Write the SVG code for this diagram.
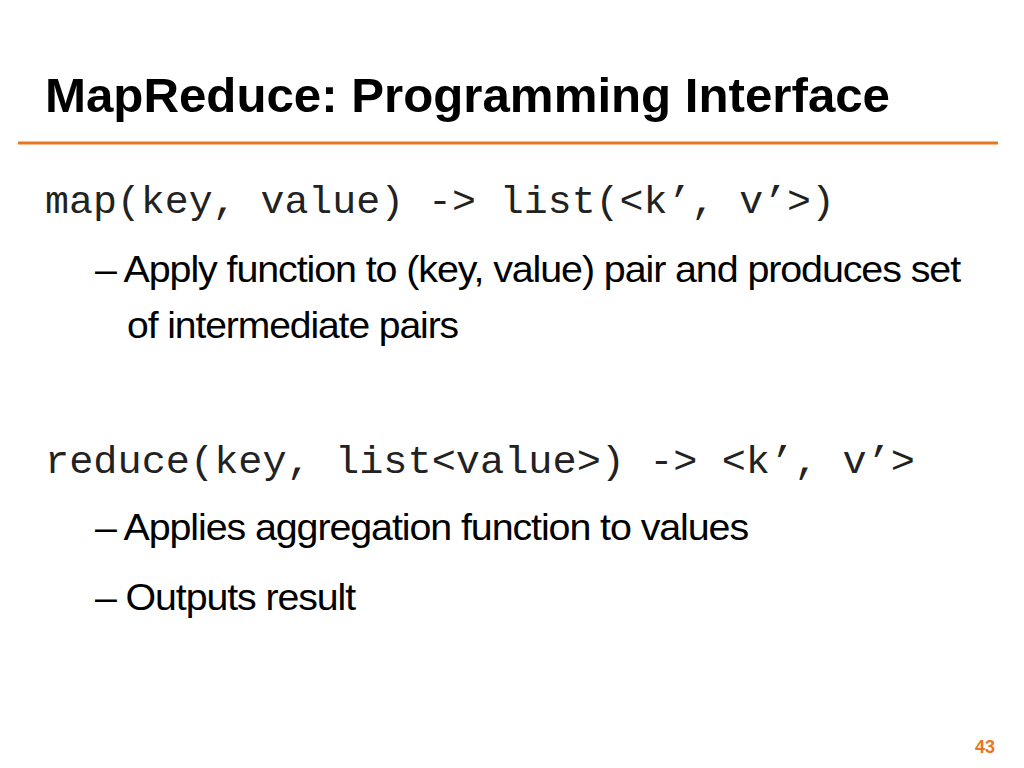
<svg xmlns="http://www.w3.org/2000/svg" width="1024" height="768" viewBox="0 0 1024 768">
<style>
.t{font-family:"Liberation Sans",Arial,sans-serif;fill:#000}
.m{font-family:"Liberation Mono","Courier New",monospace;fill:#222;font-size:38px}
.b{font-family:"Liberation Sans",Arial,sans-serif;font-size:36px;fill:#000;letter-spacing:-1px}
</style>
<rect width="1024" height="768" fill="#fff"/>
<text class="t" x="45" y="112" font-size="48" font-weight="bold" textLength="845" lengthAdjust="spacingAndGlyphs">MapReduce:  Programming Interface</text>
<line x1="18" y1="143" x2="998" y2="143" stroke="#E87722" stroke-width="3"/>
<text class="m" x="45" y="213" textLength="790" lengthAdjust="spacingAndGlyphs">map(key, value) -&gt; list(&lt;k’, v’&gt;)</text>
<text class="b" x="95" y="282" textLength="865" lengthAdjust="spacingAndGlyphs">– Apply function to (key, value) pair and produces set</text>
<text class="b" x="127" y="338" textLength="331" lengthAdjust="spacingAndGlyphs">of intermediate pairs</text>
<text class="m" x="45" y="473" textLength="870" lengthAdjust="spacingAndGlyphs">reduce(key, list&lt;value&gt;) -&gt; &lt;k’, v’&gt;</text>
<text class="b" x="95" y="540" textLength="653" lengthAdjust="spacingAndGlyphs">– Applies aggregation function to values</text>
<text class="b" x="95" y="610" textLength="260" lengthAdjust="spacingAndGlyphs">– Outputs result</text>
<text class="t" x="995" y="753" font-size="18" font-weight="bold" fill="#E87722" style="fill:#E87722" text-anchor="end">43</text>
</svg>
